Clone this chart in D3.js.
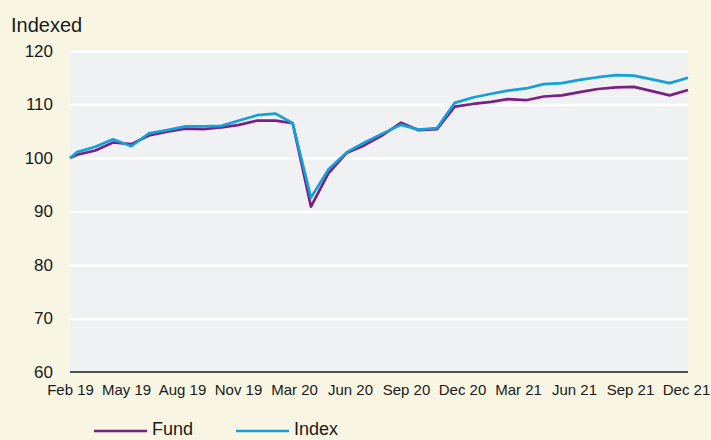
<!DOCTYPE html>
<html>
<head>
<meta charset="utf-8">
<script src="https://cdn.jsdelivr.net/npm/d3@7"></script>
<style>
  html, body { margin: 0; padding: 0; background: #f8f5e3; }
  svg { display: block; font-family: "Liberation Sans", Arial, sans-serif; }
</style>
</head>
<body>
<svg id="chart" width="711" height="440"></svg>
<script>
// Data: inception point, then month ends Feb 19 .. Dec 21
const dates = ["2019-02-16",
  "2019-02-28","2019-03-31","2019-04-30","2019-05-31","2019-06-30","2019-07-31","2019-08-31","2019-09-30","2019-10-31","2019-11-30","2019-12-31",
  "2020-01-31","2020-02-29","2020-03-31","2020-04-30","2020-05-31","2020-06-30","2020-07-31","2020-08-31","2020-09-30","2020-10-31","2020-11-30","2020-12-31",
  "2021-01-31","2021-02-28","2021-03-31","2021-04-30","2021-05-31","2021-06-30","2021-07-31","2021-08-31","2021-09-30","2021-10-31","2021-11-30","2021-12-31"];

const fund = [100,
  100.6, 101.4, 102.9, 102.6, 104.2, 104.9, 105.5, 105.4, 105.7, 106.2, 107.0,
  107.0, 106.5, 90.9, 97.2, 101.0, 102.4, 104.3, 106.6, 105.2, 105.4, 109.6, 110.1,
  110.5, 111.0, 110.8, 111.5, 111.7, 112.3, 112.9, 113.2, 113.3, 112.5, 111.7, 112.7];

const index = [100,
  101.1, 102.1, 103.5, 102.2, 104.6, 105.2, 105.9, 105.9, 106.0, 107.0, 108.0,
  108.3, 106.5, 92.6, 97.9, 101.1, 102.9, 104.6, 106.2, 105.3, 105.6, 110.3, 111.3,
  112.0, 112.6, 113.0, 113.8, 114.0, 114.6, 115.1, 115.5, 115.4, 114.7, 114.0, 115.0];

const xLabels = ["Feb 19","May 19","Aug 19","Nov 19","Mar 20","Jun 20","Sep 20","Dec 20","Mar 21","Jun 21","Sep 21","Dec 21"];
const yTicks = [60, 70, 80, 90, 100, 110, 120];

const seriesNames = ["Fund", "Index"];
const seriesColors = ["#7a1f83", "#14a0da"];

const parse = d3.timeParse("%Y-%m-%d");
const rows = dates.map((d, i) => ({ date: parse(d), fund: fund[i], index: index[i] }));

const plotLeft = 70, plotRight = 688, plotTop = 51, plotBottom = 372;
const svg = d3.select("#chart");

const x = d3.scaleTime()
  .domain(d3.extent(rows, d => d.date))
  .range([plotLeft, plotRight]);

const y = d3.scaleLinear()
  .domain([60, 120])
  .range([plotBottom, plotTop]);

// labels are spread evenly along the axis
const xl = d3.scalePoint()
  .domain(xLabels)
  .range([plotLeft, plotRight - 2]);

// plot background
svg.append("rect")
  .attr("x", plotLeft)
  .attr("y", y(120) - 1.5)
  .attr("width", plotRight - plotLeft)
  .attr("height", plotBottom - y(120) + 1.5)
  .attr("fill", "#f0f1f3");

// gridlines
svg.append("g")
  .attr("transform", `translate(${plotLeft},0)`)
  .call(d3.axisLeft(y).tickValues(yTicks.filter(v => v > 60)).tickSize(-(plotRight - plotLeft)).tickFormat(""))
  .call(g => g.select(".domain").remove())
  .call(g => g.selectAll("line").attr("stroke", "#ffffff").attr("stroke-width", 2.5));

// y labels
svg.append("g")
  .attr("transform", `translate(${plotLeft},0)`)
  .call(d3.axisLeft(y).tickValues(yTicks).tickSize(0).tickPadding(17))
  .call(g => g.select(".domain").remove())
  .call(g => g.selectAll("text")
    .attr("fill", "#1a1a1a")
    .style("font-size", "17px")
    .attr("font-family", "Liberation Sans, Arial, sans-serif"));

// x axis line
svg.append("line")
  .attr("x1", plotLeft).attr("x2", plotRight)
  .attr("y1", y(60)).attr("y2", y(60))
  .attr("stroke", "#1a1a1a")
  .attr("stroke-width", 1.5);

// x labels
svg.append("g")
  .attr("transform", `translate(0,${plotBottom})`)
  .call(d3.axisBottom(xl).tickSize(0).tickPadding(12))
  .call(g => g.select(".domain").remove())
  .call(g => g.selectAll("text")
    .attr("fill", "#1a1a1a")
    .style("font-size", "15px")
    .attr("font-family", "Liberation Sans, Arial, sans-serif"));

// lines
const keys = ["fund", "index"];
keys.forEach((k, i) => {
  svg.append("path")
    .datum(rows)
    .attr("fill", "none")
    .attr("stroke", seriesColors[i])
    .attr("stroke-width", 2.7)
    .attr("stroke-linejoin", "round")
    .attr("d", d3.line().x(d => x(d.date)).y(d => y(d[k])));
});

// y title
svg.append("text")
  .attr("x", 11)
  .attr("y", 32)
  .style("font-size", "20px")
  .attr("fill", "#1a1a1a")
  .text("Indexed");

// legend
const legend = svg.selectAll(".legend")
  .data(seriesNames)
  .enter().append("g")
  .attr("class", "legend")
  .attr("transform", (d, i) => `translate(${94 + i * 142}, 431)`);

legend.append("line")
  .attr("x1", 0).attr("x2", 53)
  .attr("stroke", (d, i) => seriesColors[i])
  .attr("stroke-width", 2.6);

legend.append("text")
  .attr("x", 58)
  .attr("y", 4)
  .style("font-size", "18px")
  .attr("fill", "#1a1a1a")
  .text(d => d);
</script>
</body>
</html>
